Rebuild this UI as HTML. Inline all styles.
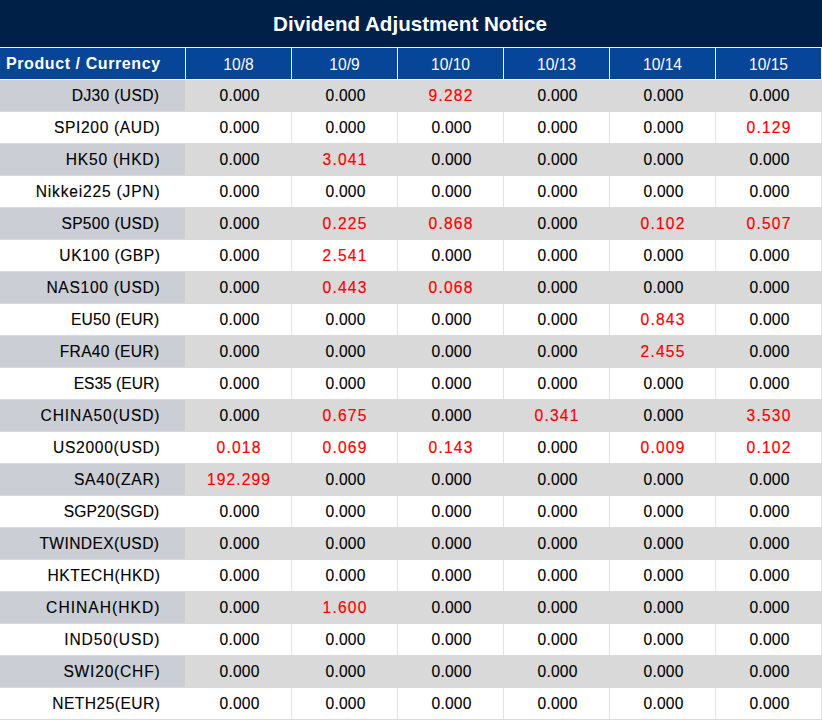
<!DOCTYPE html>
<html><head><meta charset="utf-8"><title>Dividend Adjustment Notice</title><style>
html,body{margin:0;padding:0}
body{width:822px;height:720px;overflow:hidden;position:relative;background:#fff;font-family:"Liberation Sans",sans-serif}
.a{position:absolute}
.t{position:absolute;white-space:nowrap;line-height:20px;height:20px}
.hv{top:48px;width:1px;height:31px;background:#f2f2f2}
.ht{color:#fff;font-size:15.6px;top:55px;text-align:center;width:105px}
.g{background:#d9d9d9}
.g0{background:#cbced4}
.vw{background:#e2e2e2}
.lab{-webkit-text-stroke:0.12px #000;font-size:15.6px;color:#000;text-align:right}
.num{-webkit-text-stroke:0.12px #000;font-size:15.6px;text-align:center;width:105px;color:#000;letter-spacing:0.2px;text-indent:0.2px}
.red{color:#ff0000;-webkit-text-stroke:0.2px #ff0000;letter-spacing:1.2px;text-indent:1.2px}
</style></head><body>
<div class="a" style="left:0;top:0;width:822px;height:47px;background:#002048"></div>
<div class="t" style="left:-1px;width:822px;text-align:center;top:12px;font-size:20.6px;line-height:24px;height:24px;font-weight:bold;color:#fff;letter-spacing:0px;text-indent:0px">Dividend Adjustment Notice</div>
<div class="a" style="left:0;top:47px;width:822px;height:1px;background:#f2f2f2"></div>
<div class="a" style="left:0;top:48px;width:821px;height:31px;background:#074599"></div>
<div class="a" style="left:0;top:79px;width:822px;height:1px;background:#f2f2f2"></div>
<div class="a hv" style="left:185px"></div>
<div class="a hv" style="left:291px"></div>
<div class="a hv" style="left:397px"></div>
<div class="a hv" style="left:503px"></div>
<div class="a hv" style="left:609px"></div>
<div class="a hv" style="left:715px"></div>
<div class="a hv" style="left:821px"></div>
<div class="t" style="left:6px;top:54px;color:#fff;font-weight:bold;font-size:16px;letter-spacing:0.59px">Product / Currency</div>
<div class="t ht" style="left:186px">10/8</div>
<div class="t ht" style="left:292px">10/9</div>
<div class="t ht" style="left:398px">10/10</div>
<div class="t ht" style="left:504px">10/13</div>
<div class="t ht" style="left:610px">10/14</div>
<div class="t ht" style="left:716px">10/15</div>
<div class="a g" style="left:0;top:80px;width:822px;height:32px"></div>
<div class="a g0" style="left:0;top:80px;width:185px;height:31px"></div>
<div class="a vw" style="left:291px;top:112px;width:1px;height:31px"></div>
<div class="a vw" style="left:397px;top:112px;width:1px;height:31px"></div>
<div class="a vw" style="left:503px;top:112px;width:1px;height:31px"></div>
<div class="a vw" style="left:609px;top:112px;width:1px;height:31px"></div>
<div class="a vw" style="left:715px;top:112px;width:1px;height:31px"></div>
<div class="a vw" style="left:821px;top:112px;width:1px;height:31px"></div>
<div class="a g" style="left:0;top:143px;width:822px;height:33px"></div>
<div class="a g0" style="left:0;top:144px;width:185px;height:31px"></div>
<div class="a vw" style="left:291px;top:176px;width:1px;height:31px"></div>
<div class="a vw" style="left:397px;top:176px;width:1px;height:31px"></div>
<div class="a vw" style="left:503px;top:176px;width:1px;height:31px"></div>
<div class="a vw" style="left:609px;top:176px;width:1px;height:31px"></div>
<div class="a vw" style="left:715px;top:176px;width:1px;height:31px"></div>
<div class="a vw" style="left:821px;top:176px;width:1px;height:31px"></div>
<div class="a g" style="left:0;top:207px;width:822px;height:33px"></div>
<div class="a g0" style="left:0;top:208px;width:185px;height:31px"></div>
<div class="a vw" style="left:291px;top:240px;width:1px;height:31px"></div>
<div class="a vw" style="left:397px;top:240px;width:1px;height:31px"></div>
<div class="a vw" style="left:503px;top:240px;width:1px;height:31px"></div>
<div class="a vw" style="left:609px;top:240px;width:1px;height:31px"></div>
<div class="a vw" style="left:715px;top:240px;width:1px;height:31px"></div>
<div class="a vw" style="left:821px;top:240px;width:1px;height:31px"></div>
<div class="a g" style="left:0;top:271px;width:822px;height:33px"></div>
<div class="a g0" style="left:0;top:272px;width:185px;height:31px"></div>
<div class="a vw" style="left:291px;top:304px;width:1px;height:31px"></div>
<div class="a vw" style="left:397px;top:304px;width:1px;height:31px"></div>
<div class="a vw" style="left:503px;top:304px;width:1px;height:31px"></div>
<div class="a vw" style="left:609px;top:304px;width:1px;height:31px"></div>
<div class="a vw" style="left:715px;top:304px;width:1px;height:31px"></div>
<div class="a vw" style="left:821px;top:304px;width:1px;height:31px"></div>
<div class="a g" style="left:0;top:335px;width:822px;height:33px"></div>
<div class="a g0" style="left:0;top:336px;width:185px;height:31px"></div>
<div class="a vw" style="left:291px;top:368px;width:1px;height:31px"></div>
<div class="a vw" style="left:397px;top:368px;width:1px;height:31px"></div>
<div class="a vw" style="left:503px;top:368px;width:1px;height:31px"></div>
<div class="a vw" style="left:609px;top:368px;width:1px;height:31px"></div>
<div class="a vw" style="left:715px;top:368px;width:1px;height:31px"></div>
<div class="a vw" style="left:821px;top:368px;width:1px;height:31px"></div>
<div class="a g" style="left:0;top:399px;width:822px;height:33px"></div>
<div class="a g0" style="left:0;top:400px;width:185px;height:31px"></div>
<div class="a vw" style="left:291px;top:432px;width:1px;height:31px"></div>
<div class="a vw" style="left:397px;top:432px;width:1px;height:31px"></div>
<div class="a vw" style="left:503px;top:432px;width:1px;height:31px"></div>
<div class="a vw" style="left:609px;top:432px;width:1px;height:31px"></div>
<div class="a vw" style="left:715px;top:432px;width:1px;height:31px"></div>
<div class="a vw" style="left:821px;top:432px;width:1px;height:31px"></div>
<div class="a g" style="left:0;top:463px;width:822px;height:33px"></div>
<div class="a g0" style="left:0;top:464px;width:185px;height:31px"></div>
<div class="a vw" style="left:291px;top:496px;width:1px;height:31px"></div>
<div class="a vw" style="left:397px;top:496px;width:1px;height:31px"></div>
<div class="a vw" style="left:503px;top:496px;width:1px;height:31px"></div>
<div class="a vw" style="left:609px;top:496px;width:1px;height:31px"></div>
<div class="a vw" style="left:715px;top:496px;width:1px;height:31px"></div>
<div class="a vw" style="left:821px;top:496px;width:1px;height:31px"></div>
<div class="a g" style="left:0;top:527px;width:822px;height:33px"></div>
<div class="a g0" style="left:0;top:528px;width:185px;height:31px"></div>
<div class="a vw" style="left:291px;top:560px;width:1px;height:31px"></div>
<div class="a vw" style="left:397px;top:560px;width:1px;height:31px"></div>
<div class="a vw" style="left:503px;top:560px;width:1px;height:31px"></div>
<div class="a vw" style="left:609px;top:560px;width:1px;height:31px"></div>
<div class="a vw" style="left:715px;top:560px;width:1px;height:31px"></div>
<div class="a vw" style="left:821px;top:560px;width:1px;height:31px"></div>
<div class="a g" style="left:0;top:591px;width:822px;height:33px"></div>
<div class="a g0" style="left:0;top:592px;width:185px;height:31px"></div>
<div class="a vw" style="left:291px;top:624px;width:1px;height:31px"></div>
<div class="a vw" style="left:397px;top:624px;width:1px;height:31px"></div>
<div class="a vw" style="left:503px;top:624px;width:1px;height:31px"></div>
<div class="a vw" style="left:609px;top:624px;width:1px;height:31px"></div>
<div class="a vw" style="left:715px;top:624px;width:1px;height:31px"></div>
<div class="a vw" style="left:821px;top:624px;width:1px;height:31px"></div>
<div class="a g" style="left:0;top:655px;width:822px;height:33px"></div>
<div class="a g0" style="left:0;top:656px;width:185px;height:31px"></div>
<div class="a vw" style="left:291px;top:688px;width:1px;height:31px"></div>
<div class="a vw" style="left:397px;top:688px;width:1px;height:31px"></div>
<div class="a vw" style="left:503px;top:688px;width:1px;height:31px"></div>
<div class="a vw" style="left:609px;top:688px;width:1px;height:31px"></div>
<div class="a vw" style="left:715px;top:688px;width:1px;height:31px"></div>
<div class="a vw" style="left:821px;top:688px;width:1px;height:31px"></div>
<div class="a g" style="left:0;top:719px;width:822px;height:1px"></div>
<div class="t lab" style="right:662.6px;top:86px;letter-spacing:0.355px">DJ30 (USD)</div>
<div class="t num" style="left:187px;top:86px">0.000</div>
<div class="t num" style="left:293px;top:86px">0.000</div>
<div class="t num red" style="left:398px;top:86px">9.282</div>
<div class="t num" style="left:505px;top:86px">0.000</div>
<div class="t num" style="left:611px;top:86px">0.000</div>
<div class="t num" style="left:717px;top:86px">0.000</div>
<div class="t lab" style="right:661.6px;top:118px;letter-spacing:0.637px">SPI200 (AUD)</div>
<div class="t num" style="left:187px;top:118px">0.000</div>
<div class="t num" style="left:293px;top:118px">0.000</div>
<div class="t num" style="left:399px;top:118px">0.000</div>
<div class="t num" style="left:505px;top:118px">0.000</div>
<div class="t num" style="left:611px;top:118px">0.000</div>
<div class="t num red" style="left:716px;top:118px">0.129</div>
<div class="t lab" style="right:661.6px;top:150px;letter-spacing:0.799px">HK50 (HKD)</div>
<div class="t num" style="left:187px;top:150px">0.000</div>
<div class="t num red" style="left:292px;top:150px">3.041</div>
<div class="t num" style="left:399px;top:150px">0.000</div>
<div class="t num" style="left:505px;top:150px">0.000</div>
<div class="t num" style="left:611px;top:150px">0.000</div>
<div class="t num" style="left:717px;top:150px">0.000</div>
<div class="t lab" style="right:661.6px;top:182px;letter-spacing:0.799px">Nikkei225 (JPN)</div>
<div class="t num" style="left:187px;top:182px">0.000</div>
<div class="t num" style="left:293px;top:182px">0.000</div>
<div class="t num" style="left:399px;top:182px">0.000</div>
<div class="t num" style="left:505px;top:182px">0.000</div>
<div class="t num" style="left:611px;top:182px">0.000</div>
<div class="t num" style="left:717px;top:182px">0.000</div>
<div class="t lab" style="right:662.6px;top:214px;letter-spacing:0.32px">SP500 (USD)</div>
<div class="t num" style="left:187px;top:214px">0.000</div>
<div class="t num red" style="left:292px;top:214px">0.225</div>
<div class="t num red" style="left:398px;top:214px">0.868</div>
<div class="t num" style="left:505px;top:214px">0.000</div>
<div class="t num red" style="left:610px;top:214px">0.102</div>
<div class="t num red" style="left:716px;top:214px">0.507</div>
<div class="t lab" style="right:661.6px;top:246px;letter-spacing:0.52px">UK100 (GBP)</div>
<div class="t num" style="left:187px;top:246px">0.000</div>
<div class="t num red" style="left:292px;top:246px">2.541</div>
<div class="t num" style="left:399px;top:246px">0.000</div>
<div class="t num" style="left:505px;top:246px">0.000</div>
<div class="t num" style="left:611px;top:246px">0.000</div>
<div class="t num" style="left:717px;top:246px">0.000</div>
<div class="t lab" style="right:661.6px;top:278px;letter-spacing:0.69px">NAS100 (USD)</div>
<div class="t num" style="left:187px;top:278px">0.000</div>
<div class="t num red" style="left:292px;top:278px">0.443</div>
<div class="t num red" style="left:398px;top:278px">0.068</div>
<div class="t num" style="left:505px;top:278px">0.000</div>
<div class="t num" style="left:611px;top:278px">0.000</div>
<div class="t num" style="left:717px;top:278px">0.000</div>
<div class="t lab" style="right:662.6px;top:310px;letter-spacing:0.177px">EU50 (EUR)</div>
<div class="t num" style="left:187px;top:310px">0.000</div>
<div class="t num" style="left:293px;top:310px">0.000</div>
<div class="t num" style="left:399px;top:310px">0.000</div>
<div class="t num" style="left:505px;top:310px">0.000</div>
<div class="t num red" style="left:610px;top:310px">0.843</div>
<div class="t num" style="left:717px;top:310px">0.000</div>
<div class="t lab" style="right:662.6px;top:342px;letter-spacing:0.32px">FRA40 (EUR)</div>
<div class="t num" style="left:187px;top:342px">0.000</div>
<div class="t num" style="left:293px;top:342px">0.000</div>
<div class="t num" style="left:399px;top:342px">0.000</div>
<div class="t num" style="left:505px;top:342px">0.000</div>
<div class="t num red" style="left:610px;top:342px">2.455</div>
<div class="t num" style="left:717px;top:342px">0.000</div>
<div class="t lab" style="right:662.6px;top:374px;letter-spacing:-0.001px">ES35 (EUR)</div>
<div class="t num" style="left:187px;top:374px">0.000</div>
<div class="t num" style="left:293px;top:374px">0.000</div>
<div class="t num" style="left:399px;top:374px">0.000</div>
<div class="t num" style="left:505px;top:374px">0.000</div>
<div class="t num" style="left:611px;top:374px">0.000</div>
<div class="t num" style="left:717px;top:374px">0.000</div>
<div class="t lab" style="right:661.6px;top:406px;letter-spacing:0.889px">CHINA50(USD)</div>
<div class="t num" style="left:187px;top:406px">0.000</div>
<div class="t num red" style="left:292px;top:406px">0.675</div>
<div class="t num" style="left:399px;top:406px">0.000</div>
<div class="t num red" style="left:504px;top:406px">0.341</div>
<div class="t num" style="left:611px;top:406px">0.000</div>
<div class="t num red" style="left:716px;top:406px">3.530</div>
<div class="t lab" style="right:661.6px;top:438px;letter-spacing:0.7px">US2000(USD)</div>
<div class="t num red" style="left:186px;top:438px">0.018</div>
<div class="t num red" style="left:292px;top:438px">0.069</div>
<div class="t num red" style="left:398px;top:438px">0.143</div>
<div class="t num" style="left:505px;top:438px">0.000</div>
<div class="t num red" style="left:610px;top:438px">0.009</div>
<div class="t num red" style="left:716px;top:438px">0.102</div>
<div class="t lab" style="right:661.6px;top:470px;letter-spacing:0.75px">SA40(ZAR)</div>
<div class="t num red" style="left:186px;top:470px;letter-spacing:1.1px;text-indent:1.1px">192.299</div>
<div class="t num" style="left:293px;top:470px">0.000</div>
<div class="t num" style="left:399px;top:470px">0.000</div>
<div class="t num" style="left:505px;top:470px">0.000</div>
<div class="t num" style="left:611px;top:470px">0.000</div>
<div class="t num" style="left:717px;top:470px">0.000</div>
<div class="t lab" style="right:662.6px;top:502px;letter-spacing:0.111px">SGP20(SGD)</div>
<div class="t num" style="left:187px;top:502px">0.000</div>
<div class="t num" style="left:293px;top:502px">0.000</div>
<div class="t num" style="left:399px;top:502px">0.000</div>
<div class="t num" style="left:505px;top:502px">0.000</div>
<div class="t num" style="left:611px;top:502px">0.000</div>
<div class="t num" style="left:717px;top:502px">0.000</div>
<div class="t lab" style="right:662.6px;top:534px;letter-spacing:0.4px">TWINDEX(USD)</div>
<div class="t num" style="left:187px;top:534px">0.000</div>
<div class="t num" style="left:293px;top:534px">0.000</div>
<div class="t num" style="left:399px;top:534px">0.000</div>
<div class="t num" style="left:505px;top:534px">0.000</div>
<div class="t num" style="left:611px;top:534px">0.000</div>
<div class="t num" style="left:717px;top:534px">0.000</div>
<div class="t lab" style="right:661.6px;top:566px;letter-spacing:0.5px">HKTECH(HKD)</div>
<div class="t num" style="left:187px;top:566px">0.000</div>
<div class="t num" style="left:293px;top:566px">0.000</div>
<div class="t num" style="left:399px;top:566px">0.000</div>
<div class="t num" style="left:505px;top:566px">0.000</div>
<div class="t num" style="left:611px;top:566px">0.000</div>
<div class="t num" style="left:717px;top:566px">0.000</div>
<div class="t lab" style="right:661.6px;top:598px;letter-spacing:1.02px">CHINAH(HKD)</div>
<div class="t num" style="left:187px;top:598px">0.000</div>
<div class="t num red" style="left:292px;top:598px">1.600</div>
<div class="t num" style="left:399px;top:598px">0.000</div>
<div class="t num" style="left:505px;top:598px">0.000</div>
<div class="t num" style="left:611px;top:598px">0.000</div>
<div class="t num" style="left:717px;top:598px">0.000</div>
<div class="t lab" style="right:661.6px;top:630px;letter-spacing:0.865px">IND50(USD)</div>
<div class="t num" style="left:187px;top:630px">0.000</div>
<div class="t num" style="left:293px;top:630px">0.000</div>
<div class="t num" style="left:399px;top:630px">0.000</div>
<div class="t num" style="left:505px;top:630px">0.000</div>
<div class="t num" style="left:611px;top:630px">0.000</div>
<div class="t num" style="left:717px;top:630px">0.000</div>
<div class="t lab" style="right:661.6px;top:662px;letter-spacing:0.778px">SWI20(CHF)</div>
<div class="t num" style="left:187px;top:662px">0.000</div>
<div class="t num" style="left:293px;top:662px">0.000</div>
<div class="t num" style="left:399px;top:662px">0.000</div>
<div class="t num" style="left:505px;top:662px">0.000</div>
<div class="t num" style="left:611px;top:662px">0.000</div>
<div class="t num" style="left:717px;top:662px">0.000</div>
<div class="t lab" style="right:661.6px;top:694px;letter-spacing:0.46px">NETH25(EUR)</div>
<div class="t num" style="left:187px;top:694px">0.000</div>
<div class="t num" style="left:293px;top:694px">0.000</div>
<div class="t num" style="left:399px;top:694px">0.000</div>
<div class="t num" style="left:505px;top:694px">0.000</div>
<div class="t num" style="left:611px;top:694px">0.000</div>
<div class="t num" style="left:717px;top:694px">0.000</div>
</body></html>
